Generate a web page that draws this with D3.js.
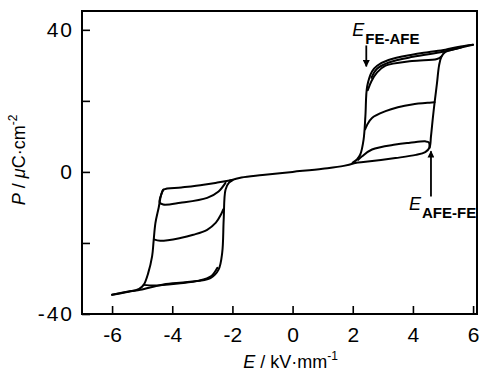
<!DOCTYPE html>
<html>
<head>
<meta charset="utf-8">
<script src="https://cdn.jsdelivr.net/npm/d3@7"></script>
<style>
  body { margin: 0; background: #fff; }
  svg { display: block; }
  .tick text { font-family: "Liberation Sans", Arial, sans-serif; font-size: 21px; fill: #000; }
  .tick line { stroke: #000; stroke-width: 1.6px; }
  .loop { fill: none; stroke: #000; stroke-width: 2px; stroke-linejoin: round; stroke-linecap: round; }
</style>
</head>
<body>
<div id="chart"></div>
<script>
// E in kV/mm, P in uC/cm2
var xTicks = [-6, -4, -2, 0, 2, 4, 6];
var yTicks = [-40, -20, 0, 20, 40];
var yLabelled = [-40, 0, 40];

var centralLine = [[-2.1,-2.5],[-1.7,-1.6],[-1,-0.9],[0,0],[1,0.9],[1.7,1.7],[2.1,2.6]];

// positive side
var posRise = [[2.0,2.5],[2.5,2.9],[3.42,3.9],[4.1,4.8],[4.41,5.6],[4.55,6.8],[4.6,10],[4.66,15],[4.72,19.5],[4.8,25],[4.87,30],[4.95,32.5],[5.08,33.8],[5.5,34.8],[6.0,35.8]];
var posFullFall = [[6.0,35.8],[5.5,35.2],[5.08,34.4],[4.5,33.7],[3.97,33.0],[3.19,31.5],[2.81,29.9],[2.64,28.3],[2.48,24.1],[2.42,15.7],[2.36,9.1],[2.25,4.9],[2.14,3.5],[2.0,2.6]];
var posFallExtra = [[5.6,35.0],[5.0,33.8],[4.0,32.4],[3.2,30.8],[2.8,29.0],[2.62,26.5]];
var posLoopB = [[4.95,32.5],[4.8,31.8],[3.97,31.2],[3.09,29.9],[2.81,28.0],[2.62,25.5],[2.5,23]];
var posLoopC = [[4.72,19.6],[4.55,19.5],[3.97,19.0],[3.5,18.2],[3.09,17.1],[2.64,15.2],[2.48,13.3],[2.41,12]];
var posLoopD = [[4.55,6.8],[4.53,8.3],[4.41,8.6],[3.9,8.2],[3.42,7.7],[2.64,6.3],[2.31,4.4],[2.18,3.4]];

// negative side
var negFall = [[-2.0,-2.3],[-2.5,-3.0],[-2.96,-3.6],[-3.7,-4.4],[-4.29,-5.0],[-4.37,-6.5],[-4.45,-10],[-4.56,-14.4],[-4.62,-19.5],[-4.67,-23.8],[-4.8,-28.5],[-4.95,-31.8],[-5.1,-32.9],[-5.5,-33.8],[-6.0,-34.6]];
var negFullRise = [[-6.0,-34.6],[-5.4,-33.6],[-5.06,-33.2],[-4.29,-31.7],[-3.5,-31.0],[-2.73,-29.9],[-2.46,-27.5],[-2.34,-22.8],[-2.29,-13.4],[-2.23,-5],[-2.12,-3.1],[-2.0,-2.4]];
var negLoopB = [[-4.95,-31.8],[-4.6,-32.0],[-3.8,-31.4],[-3.1,-30.6],[-2.7,-29.3],[-2.5,-27]];
var negLoopC = [[-4.61,-19.0],[-4.4,-19.4],[-3.73,-18.6],[-3.3,-17.7],[-2.84,-16.3],[-2.55,-14.3],[-2.38,-12],[-2.3,-10.5]];
var negLoopD = [[-4.3,-5.0],[-4.42,-8.6],[-4.3,-9.2],[-3.73,-8.7],[-2.84,-7.3],[-2.46,-5.5],[-2.23,-3.1]];

// annotation arrows: E, P from, P to
var arrowFeAfe = [2.45, 35.6, 29.7];
var arrowAfeFe = [4.6, -6.9, 5.8];

var margin = {top: 11, right: 5, bottom: 58, left: 82},
    width = 482 - margin.left - margin.right,
    height = 372 - margin.top - margin.bottom;

var x = d3.scaleLinear().domain([-7, 6.13]).range([0, width]);
var y = d3.scaleLinear().domain([-40, 45.3]).range([height, 0]);

var svg = d3.select("#chart").append("svg")
    .attr("width", 482)
    .attr("height", 372)
  .append("g")
    .attr("transform", "translate(" + margin.left + "," + margin.top + ")");

var defs = svg.append("defs");
defs.append("marker")
    .attr("id", "head")
    .attr("viewBox", "0 0 10 10")
    .attr("refX", 9).attr("refY", 5)
    .attr("markerWidth", 9).attr("markerHeight", 7)
    .attr("markerUnits", "userSpaceOnUse")
    .attr("orient", "auto")
  .append("path")
    .attr("d", "M0,0L10,5L0,10Z")
    .attr("fill", "#000");

// axes
var xAxis = svg.append("g")
    .attr("transform", "translate(0," + height + ")")
    .call(d3.axisBottom(x).tickValues(xTicks).tickSize(-8).tickSizeOuter(0).tickPadding(13)
      .tickFormat(function(d) { return String(d); }));
xAxis.select(".domain").remove();

var yAxis = svg.append("g")
    .call(d3.axisLeft(y).tickValues(yTicks).tickSize(-8).tickSizeOuter(0).tickPadding(8)
      .tickFormat(function(d) { return yLabelled.indexOf(d) >= 0 ? String(d) : ""; }));
yAxis.select(".domain").remove();
yAxis.selectAll(".tick text").attr("letter-spacing", "2px");

// frame
svg.append("rect")
    .attr("width", width)
    .attr("height", height)
    .attr("fill", "none")
    .attr("stroke", "#000")
    .attr("stroke-width", 2);

var line = d3.line()
    .x(function(d) { return x(d[0]); })
    .y(function(d) { return y(d[1]); })
    .curve(d3.curveCatmullRom.alpha(0.5));

var curves = [centralLine, posRise, posFullFall, posFallExtra, posLoopB, posLoopC, posLoopD,
              negFall, negFullRise, negLoopB, negLoopC, negLoopD];
svg.selectAll(".loop")
    .data(curves)
    .enter().append("path")
    .attr("class", "loop")
    .attr("d", line);

// arrows
[arrowFeAfe, arrowAfeFe].forEach(function(a) {
  svg.append("line")
      .attr("x1", x(a[0])).attr("x2", x(a[0]))
      .attr("y1", y(a[1])).attr("y2", y(a[2]))
      .attr("stroke", "#000")
      .attr("stroke-width", 1.8)
      .attr("marker-end", "url(#head)");
});

var ff = "Liberation Sans, Arial, sans-serif";

function subLabel(px, py, sub) {
  var t = svg.append("text")
      .attr("x", px).attr("y", py)
      .attr("font-family", ff);
  t.append("tspan").attr("font-style", "italic").attr("font-size", "18px").text("E");
  t.append("tspan").attr("font-weight", "bold").attr("font-size", "15px")
      .attr("dx", 1).attr("dy", 8).text(sub);
}
subLabel(x(arrowFeAfe[0]) - 14, y(arrowFeAfe[1]) - 9, "FE-AFE");
subLabel(x(arrowAfeFe[0]) - 22, y(arrowAfeFe[1]) + 14, "AFE-FE");

// axis titles
var xt = svg.append("text")
    .attr("x", x(0) - 2)
    .attr("y", height + 54)
    .attr("text-anchor", "middle")
    .attr("font-family", ff)
    .attr("font-size", "18px");
xt.append("tspan").attr("font-style", "italic").text("E");
xt.append("tspan").text(" / kV\u00b7mm");
xt.append("tspan").attr("font-size", "12px").attr("dy", -8).text("-1");

var yt = svg.append("text")
    .attr("transform", "translate(" + (-57) + "," + (y(0) - 12) + ") rotate(-90)")
    .attr("text-anchor", "middle")
    .attr("font-family", ff)
    .attr("font-size", "18px");
yt.append("tspan").attr("font-style", "italic").text("P");
yt.append("tspan").text(" / ");
yt.append("tspan").attr("font-style", "italic").text("\u03bc");
yt.append("tspan").text("C\u00b7cm");
yt.append("tspan").attr("font-size", "12px").attr("dy", -8).text("-2");
</script>
</body>
</html>
